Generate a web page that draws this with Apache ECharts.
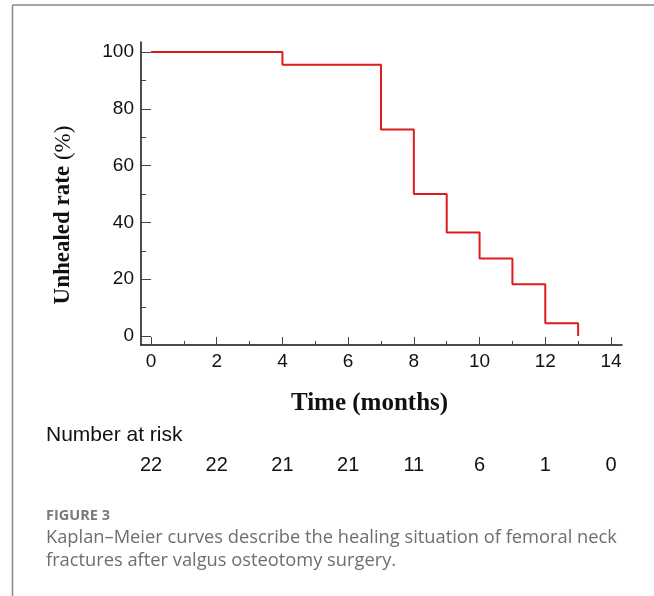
<!DOCTYPE html>
<html>
<head>
<meta charset="utf-8">
<style>html,body{margin:0;padding:0;background:#fff}#c{width:654px;height:596px}</style>
<script src="https://cdn.jsdelivr.net/npm/echarts@6/dist/echarts.min.js"></script>
</head>
<body>
<div id="c"></div>
<script>
// Kaplan–Meier step data
var eventTimes = [0, 4, 7, 8, 9, 10, 11, 12, 13];
var unhealedRate = [100, 95.5, 72.7, 50, 36.4, 27.3, 18.2, 4.5, 0];
// Number at risk at months 0,2,...,14
var riskTimes = ['0', '2', '4', '6', '8', '10', '12', '14'];
var numberAtRisk = [22, 22, 21, 21, 11, 6, 1, 0];
var yTicks = [0, 20, 40, 60, 80, 100];
var xTicks = [0, 2, 4, 6, 8, 10, 12, 14];

var kmData = eventTimes.map(function (t, i) { return [t, unhealedRate[i]]; });
var riskByTime = {};
riskTimes.forEach(function (t, i) { riskByTime[t] = numberAtRisk[i]; });

var chart = echarts.init(document.getElementById('c'), null, {renderer: 'canvas'});
var sans = 'Liberation Sans, Arial, sans-serif';
var serif = 'Liberation Serif, Times New Roman, serif';
var tickColor = '#444';
var xMin = xTicks[0], xMax = xTicks[xTicks.length - 1];
var yMin = yTicks[0], yMax = yTicks[yTicks.length - 1];

function hiddenAxis(grid, type) {
  return {gridIndex: grid, type: type || 'value', min: 0, max: 1, show: false};
}

chart.setOption({
  animation: false,
  backgroundColor: '#fff',
  graphic: [
    {type: 'line', shape: {x1: 12.5, y1: 5, x2: 654, y2: 5}, style: {stroke: '#888', lineWidth: 1.5}},
    {type: 'line', shape: {x1: 12.5, y1: 5, x2: 12.5, y2: 596}, style: {stroke: '#888', lineWidth: 1.5}}
  ],
  title: [
    {text: 'Number at risk', left: 41, top: 420, textStyle: {fontFamily: sans, fontSize: 21, fontWeight: 'normal', color: '#111'}},
    {text: 'FIGURE 3', left: 41, top: 503, textStyle: {fontFamily: 'Open Sans, sans-serif', fontSize: 14.5, fontWeight: 'bold', color: '#7a7a7a'}},
    {text: 'Kaplan\u2013Meier curves describe the healing situation of femoral neck\nfractures after valgus osteotomy surgery.', left: 41, top: 521,
     textStyle: {fontFamily: 'Open Sans, sans-serif', fontSize: 18.3, fontWeight: 'normal', color: '#6e6e6e', lineHeight: 23}}
  ],
  grid: [
    {left: 141, top: 42, width: 481, height: 303},   // 0: axis lines + names
    {left: 151, top: 52, width: 460, height: 284},   // 1: data
    {left: 151, top: 61, width: 460, height: 284},   // 2: x ticks on bottom line
    {left: 141, top: 52, width: 470, height: 284}    // 3: y ticks on left line
  ],
  xAxis: [
    {
      gridIndex: 0, type: 'value', min: 0, max: 1,
      axisLine: {show: true, lineStyle: {color: '#111', width: 1.5}},
      axisTick: {show: false}, axisLabel: {show: false}, splitLine: {show: false},
      name: 'Time (months)', nameLocation: 'middle', nameGap: 46,
      nameTextStyle: {fontFamily: serif, fontSize: 25, fontWeight: 'bold', color: '#111', padding: [0, 24, 0, 0]}
    },
    {gridIndex: 1, type: 'value', min: xMin, max: xMax, show: false},
    {
      gridIndex: 1, type: 'category', data: riskTimes, boundaryGap: false, position: 'bottom', offset: 119,
      axisLine: {show: false}, axisTick: {show: false}, splitLine: {show: false},
      axisLabel: {show: true, margin: 0, interval: 0, fontFamily: sans, fontSize: 20, color: '#111',
        formatter: function (v) { return String(riskByTime[v]); }}
    },
    {
      gridIndex: 2, type: 'value', min: xMin, max: xMax, interval: 2,
      axisLine: {show: false},
      axisTick: {show: true, inside: true, length: 8, lineStyle: {color: tickColor, width: 1}},
      minorTick: {show: true, splitNumber: 2, length: 4, lineStyle: {color: tickColor, width: 1}},
      axisLabel: {show: true, margin: 7, fontFamily: sans, fontSize: 19, color: '#111'},
      splitLine: {show: false}
    },
    hiddenAxis(3)
  ],
  yAxis: [
    {
      gridIndex: 0, type: 'value', min: 0, max: 1,
      axisLine: {show: true, lineStyle: {color: '#111', width: 1.5}},
      axisTick: {show: false}, axisLabel: {show: false}, splitLine: {show: false},
      name: '{b|Unhealed rate}{n| (%)}', nameLocation: 'middle', nameRotate: 90, nameGap: 66,
      nameTextStyle: {
        padding: [0, 43, 0, 0],
        rich: {
          b: {fontFamily: serif, fontSize: 23, fontWeight: 'bold', color: '#111'},
          n: {fontFamily: serif, fontSize: 23, fontWeight: 'normal', color: '#111'}
        }
      }
    },
    {gridIndex: 1, type: 'value', min: yMin, max: yMax, show: false},
    hiddenAxis(2),
    {
      gridIndex: 3, type: 'value', min: yMin, max: yMax, interval: 20,
      axisLine: {show: false},
      axisTick: {show: true, inside: true, length: 10, lineStyle: {color: tickColor, width: 1}},
      minorTick: {show: true, splitNumber: 2, length: 5, lineStyle: {color: tickColor, width: 1}},
      axisLabel: {show: true, margin: 7, fontFamily: sans, fontSize: 19, color: '#111'},
      splitLine: {show: false}
    }
  ],
  series: [
    {
      type: 'line', xAxisIndex: 1, yAxisIndex: 1, step: 'end', data: kmData,
      symbol: 'none', lineStyle: {color: '#dd1c1c', width: 2}, z: 5
    }
  ]
});
</script>
</body>
</html>
